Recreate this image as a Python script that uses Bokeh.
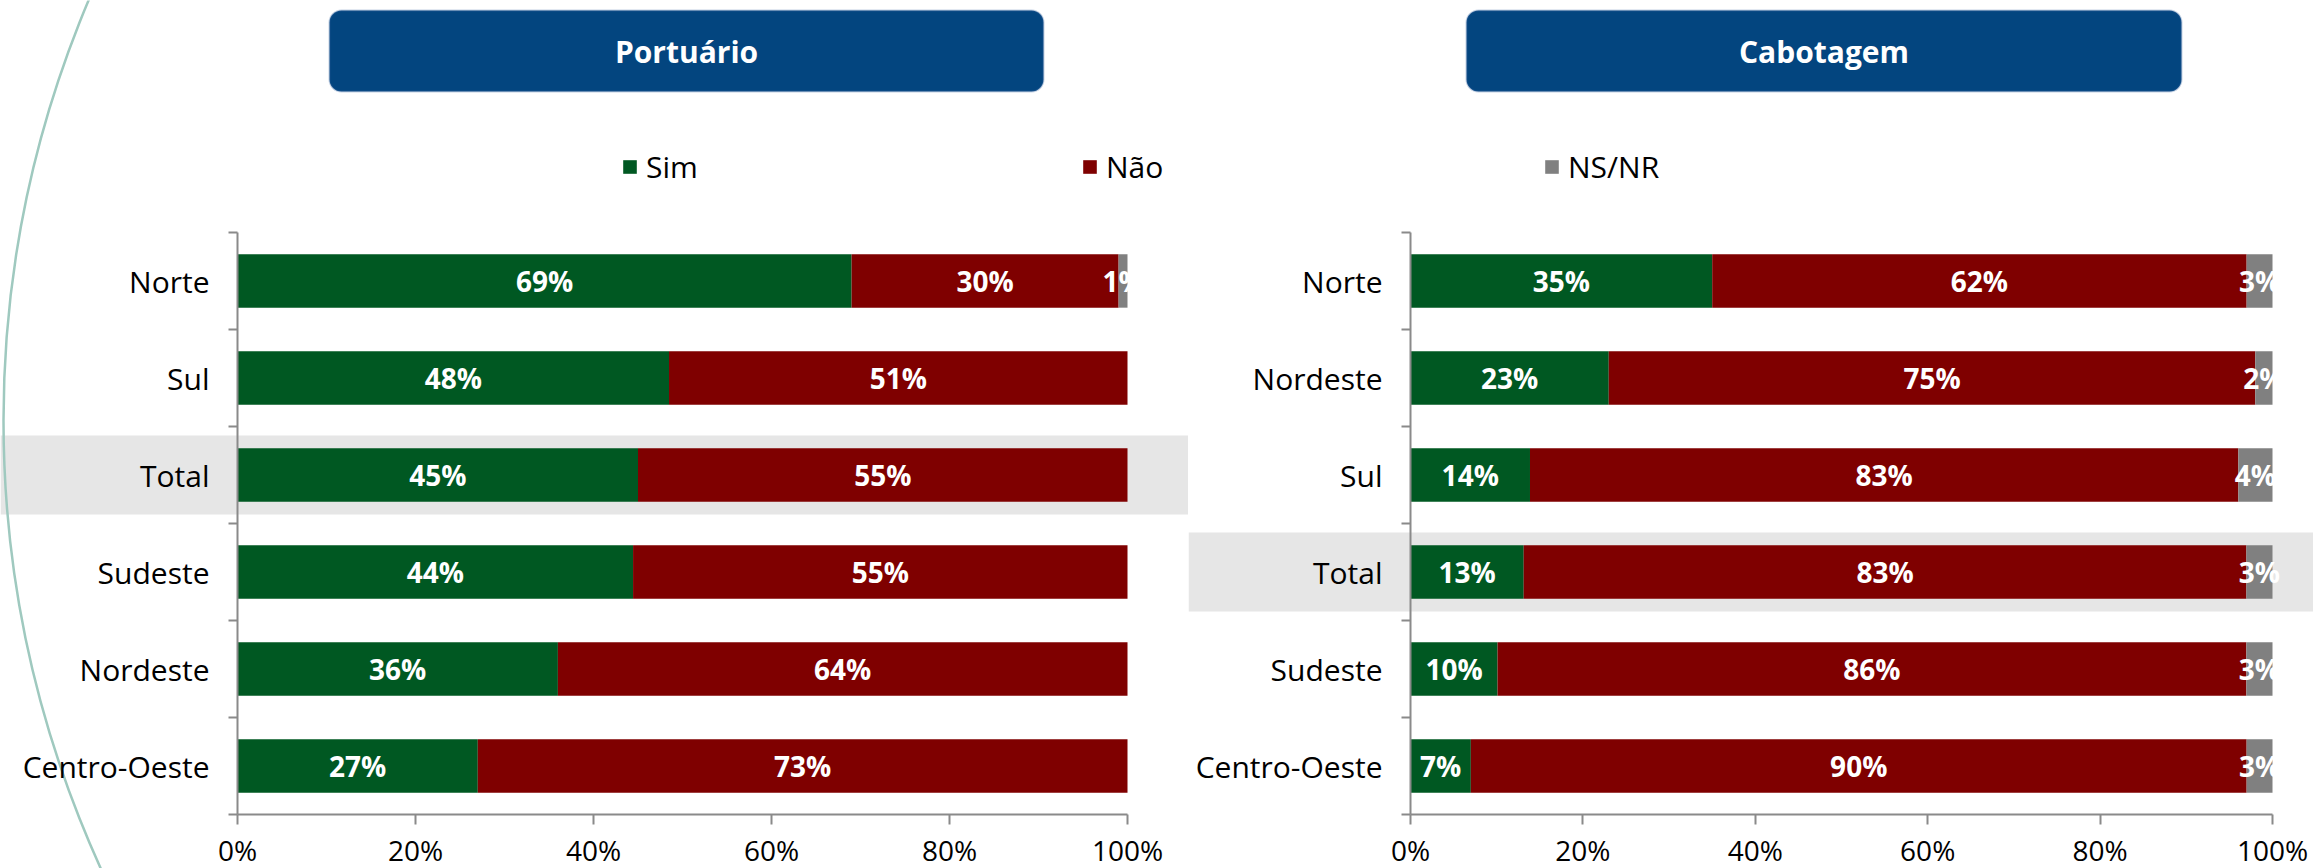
from bokeh.plotting import figure
from bokeh.layouts import row
from bokeh.models import (ColumnDataSource, FixedTicker, PrintfTickFormatter, Legend,
                          LegendItem, BoxAnnotation, Label, Range1d, LinearAxis)
from bokeh.core.properties import value
from bokeh.embed import file_html
from bokeh.resources import INLINE

# ---------------- data ----------------
series = ["Sim", "Não", "NS/NR"]
colors = ["#005822", "#7f0000", "#808080"]

port_title = "Portuário"
port_regions = ["Norte", "Sul", "Total", "Sudeste", "Nordeste", "Centro-Oeste"]
port_sim = [69, 48, 45, 44, 36, 27]
port_nao = [30, 51, 55, 55, 64, 73]
port_ns = [1, 0, 0, 0, 0, 0]

cab_title = "Cabotagem"
cab_regions = ["Norte", "Nordeste", "Sul", "Total", "Sudeste", "Centro-Oeste"]
cab_sim = [35, 23, 14, 13, 10, 7]
cab_nao = [62, 75, 83, 83, 86, 90]
cab_ns = [3, 2, 4, 3, 3, 3]

x_ticks = [0, 20, 40, 60, 80, 100]

# ---------------- layout constants (picture pixels) ----------------
FONT = "Open Sans"
AXIS_GRAY = "#8a8a8a"
FIG_TOP, FIG_BOTTOM = 0, 868
AXIS_TOP, AXIS_BOTTOM = 232, 814
N = 6
PPU_Y = (AXIS_BOTTOM - AXIS_TOP) / N
LEG_CY, LEG_H = 167, 39
SPLIT = 1188
ARC_CX, ARC_CY, ARC_R = 1083, 420, 1080


def make_panel(title, regions, sim, nao, ns, fig_left, fig_right, x0_px, x100_px,
               box_px, legend_spec, arc=False):
    ppu_x = (x100_px - x0_px) / 100.0
    px_x = lambda px: (px - x0_px) / ppu_x
    px_y = lambda py: 0.5 + (AXIS_BOTTOM - py) / PPU_Y

    x_start, x_end = px_x(fig_left), px_x(fig_right)
    y_start, y_end = px_y(FIG_BOTTOM), px_y(FIG_TOP)

    p = figure(width=fig_right - fig_left, height=FIG_BOTTOM - FIG_TOP,
               x_range=Range1d(x_start, x_end), y_range=Range1d(y_start, y_end),
               x_axis_type=None, y_axis_type=None,
               output_backend="svg", toolbar_location=None, min_border=0)
    p.outline_line_color = None
    p.background_fill_color = "white"
    p.border_fill_color = "white"

    n = len(regions)
    ys = [n - i for i in range(n)]
    totals = [a + b + c for a, b, c in zip(sim, nao, ns)]
    fs = [100.0 * a / t for a, t in zip(sim, totals)]
    fn = [100.0 * b / t for b, t in zip(nao, totals)]
    fr = [100.0 * c / t for c, t in zip(ns, totals)]

    # highlight band for Total
    ti = regions.index("Total")
    p.hbar(y=[ys[ti]], left=[x_start - 50], right=[x_end + 50], height=79 / PPU_Y,
           fill_color="#e6e6e6", line_color=None)

    # decorative arc (left edge of a large circle)
    if arc:
        p.circle(x=[px_x(ARC_CX)], y=[px_y(ARC_CY)], radius=ARC_R / ppu_x,
                 fill_color=None, line_color="#9fc9bf", line_width=2.5)

    src = ColumnDataSource(dict(y=ys, sim=fs, nao=fn, ns=fr))
    rs = p.hbar_stack(["sim", "nao", "ns"], y="y", height=0.55, source=src,
                      fill_color=colors, line_color=None)

    # value labels
    lx, ly, lt = [], [], []
    for i in range(n):
        start = 0.0
        for raw, frac in ((sim[i], fs[i]), (nao[i], fn[i]), (ns[i], fr[i])):
            if raw > 0:
                lx.append(start + frac / 2)
                ly.append(ys[i])
                lt.append(f"{raw}%")
            start += frac
    p.text(x=lx, y=ly, text=lt, text_align="center", text_baseline="middle",
           text_color="white", text_font=value(FONT), text_font_style="bold",
           text_font_size="28px")

    # axes
    xaxis = LinearAxis(ticker=FixedTicker(ticks=x_ticks),
                       formatter=PrintfTickFormatter(format="%d%%"),
                       fixed_location=0.5, bounds=(0, 100))
    xaxis.axis_line_color = AXIS_GRAY
    xaxis.axis_line_width = 2
    xaxis.major_tick_in = 0
    xaxis.major_tick_out = 10
    xaxis.major_tick_line_color = AXIS_GRAY
    xaxis.major_tick_line_width = 2
    xaxis.minor_tick_line_color = None
    xaxis.major_label_standoff = 6
    xaxis.major_label_text_font = FONT
    xaxis.major_label_text_font_size = "28px"
    xaxis.major_label_text_color = "black"
    p.add_layout(xaxis, "below")

    yaxis = LinearAxis(ticker=FixedTicker(ticks=ys, minor_ticks=[k + 0.5 for k in range(n + 1)]),
                       major_label_overrides={y: r for y, r in zip(ys, regions)},
                       fixed_location=0, bounds=(0.5, n + 0.5))
    yaxis.axis_line_color = AXIS_GRAY
    yaxis.axis_line_width = 2
    yaxis.major_tick_in = 0
    yaxis.major_tick_out = 0
    yaxis.major_tick_line_color = None
    yaxis.minor_tick_in = 0
    yaxis.minor_tick_out = 9
    yaxis.minor_tick_line_color = AXIS_GRAY
    yaxis.minor_tick_line_width = 2
    yaxis.major_label_standoff = 19
    yaxis.major_label_text_font = FONT
    yaxis.major_label_text_font_size = "30px"
    yaxis.major_label_text_color = "black"
    p.add_layout(yaxis, "left")

    # title box
    bl, br, bt, bb = box_px
    p.add_layout(BoxAnnotation(left=px_x(bl), right=px_x(br), top=px_y(bt), bottom=px_y(bb),
                               fill_color="#03457f", fill_alpha=1.0, line_color="#3b66a3",
                               line_width=2, border_radius=12))
    p.add_layout(Label(x=px_x((bl + br) / 2), y=px_y((bt + bb) / 2), text=title,
                       text_align="center", text_baseline="middle", text_color="white",
                       text_font=FONT, text_font_style="bold", text_font_size="30px"))

    # legend
    idxs, leg_x, lab_w = legend_spec
    items = [LegendItem(label=series[k], renderers=[rs[k]]) for k in idxs]
    legend = Legend(items=items, orientation="horizontal",
                    location=(leg_x - fig_left, FIG_BOTTOM - (LEG_CY + LEG_H / 2)),
                    padding=0, margin=0, spacing=0, border_line_color=None,
                    background_fill_alpha=0, glyph_width=17, glyph_height=17,
                    label_standoff=8, label_width=lab_w, label_text_font=FONT,
                    label_text_font_size="30px", label_text_color="black")
    p.add_layout(legend)
    return p


p1 = make_panel(port_title, port_regions, port_sim, port_nao, port_ns,
                0, SPLIT, 237, 1127, (329, 1043, 10, 91), ([0, 1], 621, 435), arc=True)
p2 = make_panel(cab_title, cab_regions, cab_sim, cab_nao, cab_ns,
                SPLIT, 2313, 1410, 2272, (1466, 2181, 10, 91), ([2], 1543, 60))

layout = row(p1, p2)
open("out.html", "w").write(file_html(layout, INLINE))
